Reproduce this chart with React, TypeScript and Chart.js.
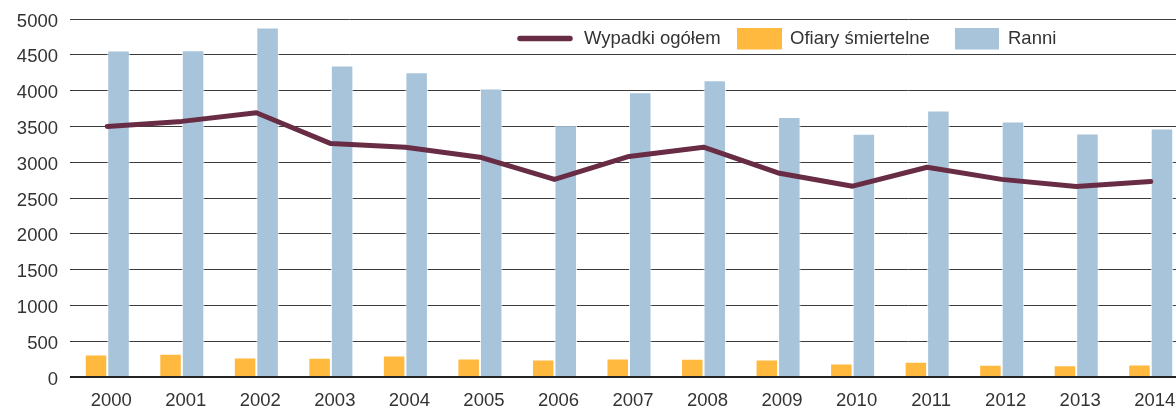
import React, { useEffect, useRef } from "react";
import { Chart, registerables } from "chart.js";

Chart.register(...registerables);

const years = ["2000", "2001", "2002", "2003", "2004", "2005", "2006", "2007", "2008", "2009", "2010", "2011", "2012", "2013", "2014"];
const wypadki = [3500, 3570, 3690, 3260, 3210, 3070, 2760, 3080, 3210, 2850, 2665, 2930, 2760, 2660, 2730];
const ofiary = [314, 324, 272, 268, 300, 258, 244, 258, 254, 244, 188, 212, 170, 165, 175];
const ranni = [4560, 4565, 4880, 4350, 4257, 4030, 3517, 3978, 4145, 3630, 3397, 3723, 3568, 3400, 3470];
const seriesLabels = ["Wypadki ogółem", "Ofiary śmiertelne", "Ranni"];

const LINE_COLOR = "#682d45";
const ORANGE = "#ffb93e";
const BLUE = "#a8c4da";
const TEXT = "#333333";
const FONT_FAMILY = '"Liberation Sans", Arial, Helvetica, sans-serif';

const legendPlugin = {
  id: "customLegend",
  afterDraw(chart: any) {
    const ctx = chart.ctx as CanvasRenderingContext2D;
    ctx.save();
    const cy = 38.5;
    ctx.font = `18.5px ${FONT_FAMILY}`;
    ctx.textBaseline = "middle";
    ctx.textAlign = "left";
    ctx.strokeStyle = LINE_COLOR;
    ctx.lineWidth = 5.5;
    ctx.lineCap = "round";
    ctx.beginPath();
    ctx.moveTo(520, cy);
    ctx.lineTo(570, cy);
    ctx.stroke();
    ctx.fillStyle = TEXT;
    ctx.fillText(seriesLabels[0], 584, cy);
    ctx.fillStyle = ORANGE;
    ctx.fillRect(737, 28, 45, 21.5);
    ctx.fillStyle = TEXT;
    ctx.fillText(seriesLabels[1], 790, cy);
    ctx.fillStyle = BLUE;
    ctx.fillRect(955, 28, 44, 21.5);
    ctx.fillStyle = TEXT;
    ctx.fillText(seriesLabels[2], 1008, cy);
    ctx.restore();
  },
};

export default function App() {
  const canvasRef = useRef<HTMLCanvasElement | null>(null);

  useEffect(() => {
    if (!canvasRef.current) return;
    const chart = new Chart(canvasRef.current, {
      type: "bar",
      data: {
        labels: years,
        datasets: [
          {
            type: "line",
            label: seriesLabels[0],
            data: wypadki,
            borderColor: LINE_COLOR,
            backgroundColor: LINE_COLOR,
            borderWidth: 5,
            pointRadius: 0,
            tension: 0,
            borderCapStyle: "round",
            borderJoinStyle: "round",
            order: 0,
          } as any,
          {
            type: "bar",
            label: seriesLabels[1],
            data: ofiary,
            backgroundColor: ORANGE,
            borderColor: "rgba(255,255,255,0.85)",
            borderWidth: 1,
            borderSkipped: "bottom",
            categoryPercentage: 0.604,
            barPercentage: 1,
            order: 1,
          },
          {
            type: "bar",
            label: seriesLabels[2],
            data: ranni,
            backgroundColor: BLUE,
            borderColor: "rgba(255,255,255,0.85)",
            borderWidth: 1,
            borderSkipped: "bottom",
            categoryPercentage: 0.604,
            barPercentage: 1,
            order: 1,
          },
        ],
      },
      options: {
        animation: false,
        responsive: true,
        maintainAspectRatio: false,
        layout: { padding: { left: 17, right: 4, top: 19, bottom: 0 } },
        plugins: {
          legend: { display: false },
          tooltip: { enabled: false },
        },
        scales: {
          x: {
            offset: true,
            grid: { display: false, drawTicks: false },
            border: { display: false },
            ticks: {
              color: TEXT,
              font: { family: FONT_FAMILY, size: 18.5, lineHeight: 1.2 },
              padding: 13,
              labelOffset: 4,
              maxRotation: 0,
              autoSkip: false,
            },
            afterFit: (scale: any) => {
              scale.height = 32;
            },
          },
          y: {
            min: 0,
            max: 5000,
            border: { display: false },
            grid: {
              drawTicks: false,
              color: (c: any) => (c.tick && c.tick.value === 0 ? "#222222" : "#3c3c3c"),
              lineWidth: (c: any) => (c.tick && c.tick.value === 0 ? 2 : 1),
            },
            ticks: {
              stepSize: 500,
              color: TEXT,
              font: { family: FONT_FAMILY, size: 18.5 },
              padding: 12,
              labelOffset: 2.5,
              callback: (v: any) => String(v),
            },
            afterFit: (scale: any) => {
              scale.width = 53;
              scale.paddingTop = 0;
              scale.paddingBottom = 0;
            },
          },
        },
      },
      plugins: [legendPlugin],
    });
    return () => chart.destroy();
  }, []);

  return (
    <div style={{ position: "fixed", left: 0, top: 0, width: 1176, height: 409, overflow: "hidden", background: "#fff" }}>
      <div style={{ position: "relative", width: 1192, height: 409 }}>
        <canvas ref={canvasRef} />
      </div>
    </div>
  );
}
